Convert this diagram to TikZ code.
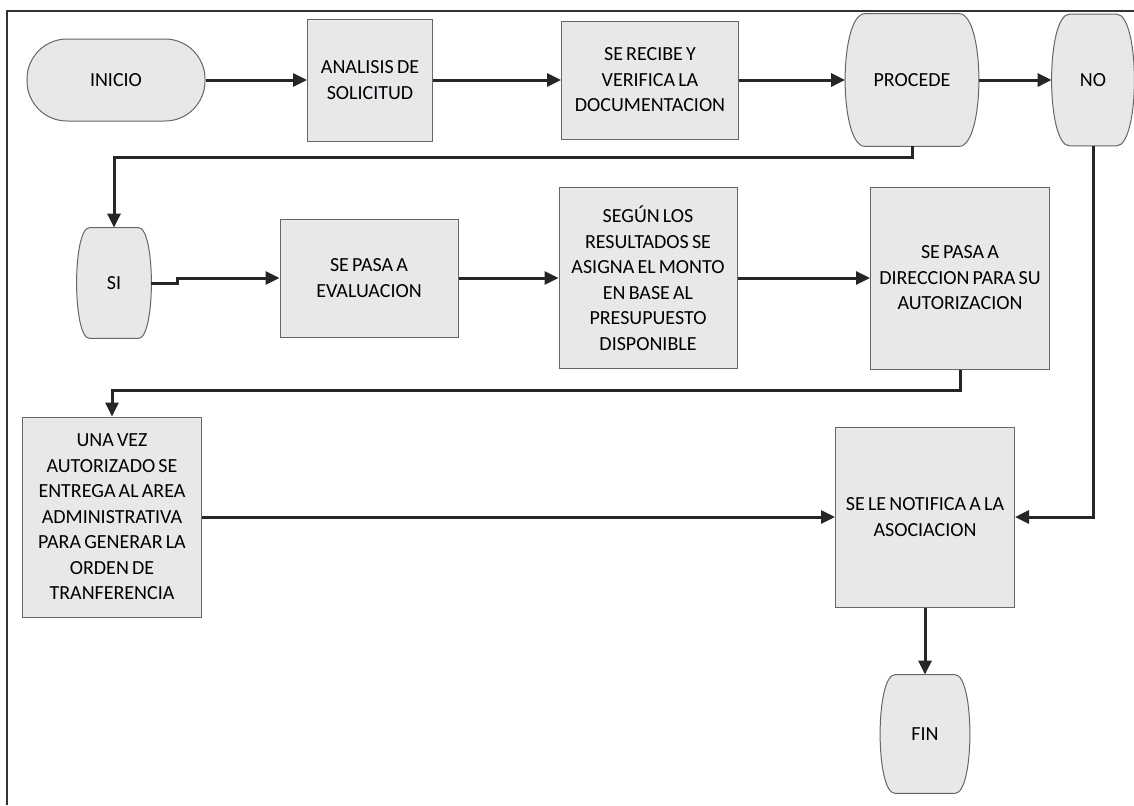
\documentclass[tikz,border=0pt]{standalone}
\usepackage{fontspec}
\setmainfont{Carlito}[WordSpace=0.7]
\usetikzlibrary{arrows.meta,backgrounds}
\definecolor{boxfill}{HTML}{E8E8EB}
\definecolor{edgecol}{HTML}{666666}
\definecolor{conncol}{HTML}{262626}
% barrel-shaped terminator drawn round a named node: name, inset, inset/3
\newcommand{\barrel}[3]{%
  \draw[draw=edgecol, line width=0.5pt, fill=boxfill]
    ([xshift=#2]#1.north west) -- ([xshift=-#2]#1.north east)
    .. controls ([xshift=#3]#1.north east) and ([xshift=#3]#1.south east) ..
    ([xshift=-#2]#1.south east) -- ([xshift=#2]#1.south west)
    .. controls ([xshift=-#3]#1.south west) and ([xshift=-#3]#1.north west) ..
    cycle;}
\begin{document}
\begin{tikzpicture}[x=0.5pt,y=-0.5pt,
  every node/.style={font=\fontsize{10}{12.75}\selectfont, align=center, inner sep=0pt, text=black},
  box/.style={draw=edgecol, line width=0.5pt, fill=boxfill},
  conn/.style={draw=conncol, line width=1.5pt},
  arr/.style={conn, -{Triangle[length=7pt,width=6.5pt]}},
  frameline/.style={draw=black!80, line width=1pt}]
\useasboundingbox (0,0) rectangle (1134,805);
\draw[frameline] (7,805) -- (7,11) -- (1134,11);

% row 1
\node[box, rounded corners=20pt, minimum width=89pt, minimum height=41pt] (inicio) at (116,80) {INICIO};
\node[box, minimum width=62.5pt, minimum height=61pt] (analisis) at (370,80) {ANALISIS DE\\SOLICITUD};
\node[box, minimum width=88.5pt, minimum height=59pt] (recibe) at (650,80) {SE RECIBE Y\\VERIFICA LA\\DOCUMENTACION};
\node[minimum width=66.5pt, minimum height=66pt] (procede) at (912,80) {PROCEDE};
\node[minimum width=41pt, minimum height=65.5pt] (no) at (1093,80) {NO};

% row 2
\node[minimum width=37pt, minimum height=55pt] (si) at (114,283) {SI};
\node[box, minimum width=89pt, minimum height=59pt] (eval) at (369,278) {SE PASA A\\EVALUACION};
\node[box, minimum width=89pt, minimum height=90.5pt] (segun) at (648,278) {SEGÚN LOS\\RESULTADOS SE\\ASIGNA EL MONTO\\EN BASE AL\\PRESUPUESTO\\DISPONIBLE};
\node[box, minimum width=89.5pt, minimum height=91pt] (dir) at (960,278) {SE PASA A\\DIRECCION PARA SU\\AUTORIZACION};

% row 3
\node[box, minimum width=89.5pt, minimum height=100pt] (unavez) at (112,517) {UNA VEZ\\AUTORIZADO SE\\ENTREGA AL AREA\\ADMINISTRATIVA\\PARA GENERAR LA\\ORDEN DE\\TRANFERENCIA};
\node[box, minimum width=89.5pt, minimum height=90pt] (notif) at (925,517) {SE LE NOTIFICA A LA\\ASOCIACION};
\node[minimum width=44.5pt, minimum height=59pt] (fin) at (925,734) {FIN};

\begin{pgfonlayer}{background}
\barrel{procede}{10pt}{3.33pt}
\barrel{no}{9pt}{3pt}
\barrel{si}{6.5pt}{2.17pt}
\barrel{fin}{7.5pt}{2.5pt}
\end{pgfonlayer}

% connectors
\draw[arr] (inicio) -- (analisis);
\draw[arr] (analisis) -- (recibe);
\draw[arr] (recibe) -- (procede);
\draw[arr] (procede) -- (no);
\draw[arr] (procede.south) -- ++(0,11) -| (si.north);
\draw[arr] (si.east) -- ++(26,0) |- (eval.west);
\draw[arr] (eval) -- (segun);
\draw[arr] (segun) -- (dir);
\draw[arr] (dir.south) -- ++(0,21) -| (unavez.north);
\draw[arr] (unavez) -- (notif);
\draw[arr] (no.south) |- (notif.east);
\draw[arr] (notif) -- (fin);
\end{tikzpicture}
\end{document}
